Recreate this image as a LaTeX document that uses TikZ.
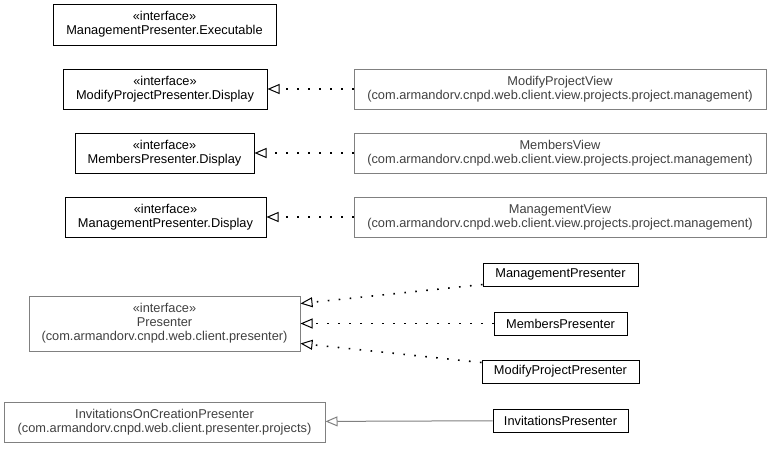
\documentclass[tikz,border=0pt]{standalone}
\usepackage{fontspec}
\setmainfont{Liberation Sans}
\usetikzlibrary{arrows.meta}
\definecolor{umlgray}{RGB}{128,128,128}
\definecolor{umltext}{RGB}{64,64,64}
\tikzstyle{iface}=[draw=black,text=black,inner sep=0pt,align=center,line width=1pt,font=\fontsize{12.8}{14}\selectfont]
\tikzstyle{ext}=[iface,draw=umlgray,text=umltext]
\tikzstyle{realize}=[-{Triangle[open,length=12pt,width=10pt,line width=1pt]},line width=1.6pt,dash pattern=on 1.6pt off 9.4pt]
\tikzstyle{inherit}=[-{Triangle[open,length=12pt,width=10pt,line width=1pt]},draw=umlgray,line width=1pt]

\begin{document}
\begin{tikzpicture}[x=1pt,y=-1pt]
  \useasboundingbox (0,0) rectangle (773,448);

  \node[iface,minimum width=223pt,minimum height=41pt] (exe) at (164.5,24.5) {«interface»\\ManagementPresenter.Executable};
  \node[iface,minimum width=204pt,minimum height=40pt] (mpd) at (165,89) {«interface»\\ModifyProjectPresenter.Display};
  \node[iface,minimum width=179pt,minimum height=40pt] (memd) at (164.5,153) {«interface»\\MembersPresenter.Display};
  \node[iface,minimum width=201pt,minimum height=40pt] (mgd) at (165.5,217) {«interface»\\ManagementPresenter.Display};

  \node[ext,minimum width=412pt,minimum height=40pt] (mpv) at (560,89) {ModifyProjectView\\(com.armandorv.cnpd.web.client.view.projects.project.management)};
  \node[ext,minimum width=412pt,minimum height=40pt] (memv) at (560,153) {MembersView\\(com.armandorv.cnpd.web.client.view.projects.project.management)};
  \node[ext,minimum width=412pt,minimum height=40pt] (mgv) at (560,217) {ManagementView\\(com.armandorv.cnpd.web.client.view.projects.project.management)};

  \node[ext,minimum width=271pt,minimum height=55pt] (pres) at (164.5,323.5) {«interface»\\Presenter\\(com.armandorv.cnpd.web.client.presenter)};
  \node[ext,minimum width=321pt,minimum height=40pt] (ioc) at (164.5,422) {InvitationsOnCreationPresenter\\(com.armandorv.cnpd.web.client.presenter.projects)};

  \node[iface,minimum width=155pt,minimum height=23pt] (mgp) at (560.5,274.5) {ManagementPresenter};
  \node[iface,minimum width=133pt,minimum height=23pt] (memp) at (560.5,323.5) {MembersPresenter};
  \node[iface,minimum width=157pt,minimum height=23pt] (mpp) at (560.5,371.5) {ModifyProjectPresenter};
  \node[iface,minimum width=135pt,minimum height=23pt] (invp) at (560.5,420.5) {InvitationsPresenter};

  % views realize the display interfaces
  \foreach \v/\d in {mpv/mpd,memv/memd,mgv/mgd}
    \draw[realize] (\v) -- (\d);

  % presenters realize Presenter
  \draw[realize] ([yshift=2pt]mgp.south west) -- ([yshift=20pt]pres.east);
  \draw[realize] (memp) -- (pres);
  \draw[realize] ([yshift=-3pt]mpp.north west) -- ([yshift=-20pt]pres.east);

  \draw[inherit] (invp) -- (ioc);
\end{tikzpicture}
\end{document}
